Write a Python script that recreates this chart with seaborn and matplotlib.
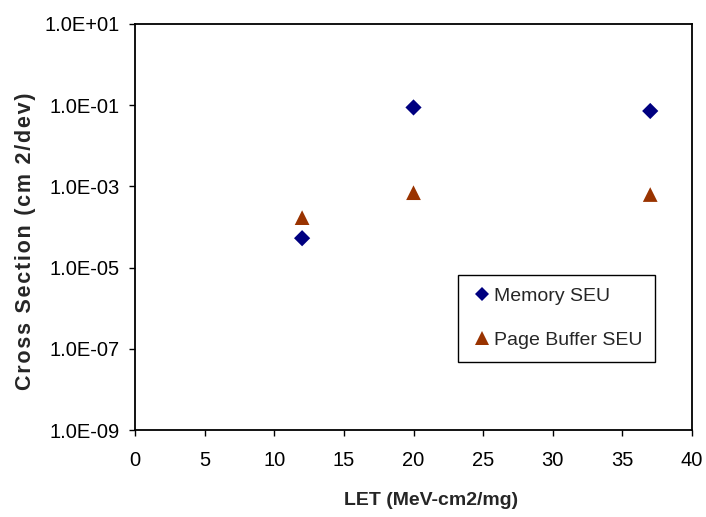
import matplotlib
matplotlib.use("Agg")
import matplotlib.pyplot as plt
import seaborn as sns
import pandas as pd
from matplotlib.lines import Line2D
from matplotlib.ticker import FixedLocator, FixedFormatter, NullLocator

# LET values (MeV-cm2/mg) and measured cross sections (cm2/dev)
let_values = [12, 20, 37]
memory_seu = [5.3e-5, 8.8e-2, 7.2e-2]
page_buffer_seu = [1.7e-4, 7.0e-4, 6.3e-4]
series_names = ["Memory SEU", "Page Buffer SEU"]

y_ticks = [1e-9, 1e-7, 1e-5, 1e-3, 1e-1, 1e1]
y_tick_labels = ["1.0E-09", "1.0E-07", "1.0E-05", "1.0E-03", "1.0E-01", "1.0E+01"]
x_ticks = [0, 5, 10, 15, 20, 25, 30, 35, 40]

df = pd.DataFrame({
    "LET": let_values * 2,
    "Cross Section": memory_seu + page_buffer_seu,
    "Series": [series_names[0]] * 3 + [series_names[1]] * 3,
})

sns.set_style("ticks")
plt.rcParams["font.family"] = ["Liberation Sans", "DejaVu Sans"]

fig = plt.figure(figsize=(7.06, 5.17), dpi=100)
ax = fig.add_axes([135 / 706, 1 - 430 / 517, (692 - 135) / 706, (430 - 24) / 517])

colors = {series_names[0]: "#000080", series_names[1]: "#993300"}
markers = {series_names[0]: "D", series_names[1]: "^"}
sizes = {series_names[0]: 68, series_names[1]: 112}

sns.scatterplot(data=df, x="LET", y="Cross Section", hue="Series", style="Series",
                size="Series", palette=colors, markers=markers, sizes=sizes,
                linewidth=0, legend=False, ax=ax)

ax.set_yscale("log")
ax.set_ylim(1e-9, 1e1)
ax.set_xlim(0, 40)
ax.yaxis.set_major_locator(FixedLocator(y_ticks))
ax.yaxis.set_major_formatter(FixedFormatter(y_tick_labels))
ax.yaxis.set_minor_locator(NullLocator())
ax.set_xticks(x_ticks)

for s in ax.spines.values():
    s.set_visible(True)
    s.set_color("black")
    s.set_linewidth(1.3)

ax.tick_params(axis="both", direction="out", length=4.3, width=1.0, colors="black",
               labelsize=14.5)
ax.tick_params(axis="x", pad=11)
ax.tick_params(axis="y", pad=6.5)


def spaced(text):
    return "\u200a".join(text)


ax.set_xlabel("LET (MeV-cm2/mg)", fontsize=14, fontweight="bold")
ax.xaxis.set_label_coords((431 - 135) / 557, -(492 - 430) / 406)
ax.set_ylabel(spaced("Cross Section (cm 2/dev)"), fontsize=15.5, fontweight="bold")
ax.yaxis.set_label_coords((36 - 135) / 557, 1 - (241 - 24) / 406)

handles = [
    Line2D([], [], linestyle="none", marker="D", color=colors[series_names[0]],
           markersize=7.5, markeredgewidth=0),
    Line2D([], [], linestyle="none", marker="^", color=colors[series_names[1]],
           markersize=10.5, markeredgewidth=0),
]
leg = ax.legend(handles, series_names, loc="upper left",
                bbox_to_anchor=((458 - 135) / 557, 1 - (275 - 24) / 406),
                frameon=True, fancybox=False, fontsize=14, handlelength=1.15,
                handletextpad=0.05, labelspacing=1.35, borderpad=0.65,
                borderaxespad=0)
leg.get_frame().set_edgecolor("black")
leg.get_frame().set_linewidth(1.0)
leg.get_frame().set_alpha(1)

fig.savefig("out.png", dpi=100)
